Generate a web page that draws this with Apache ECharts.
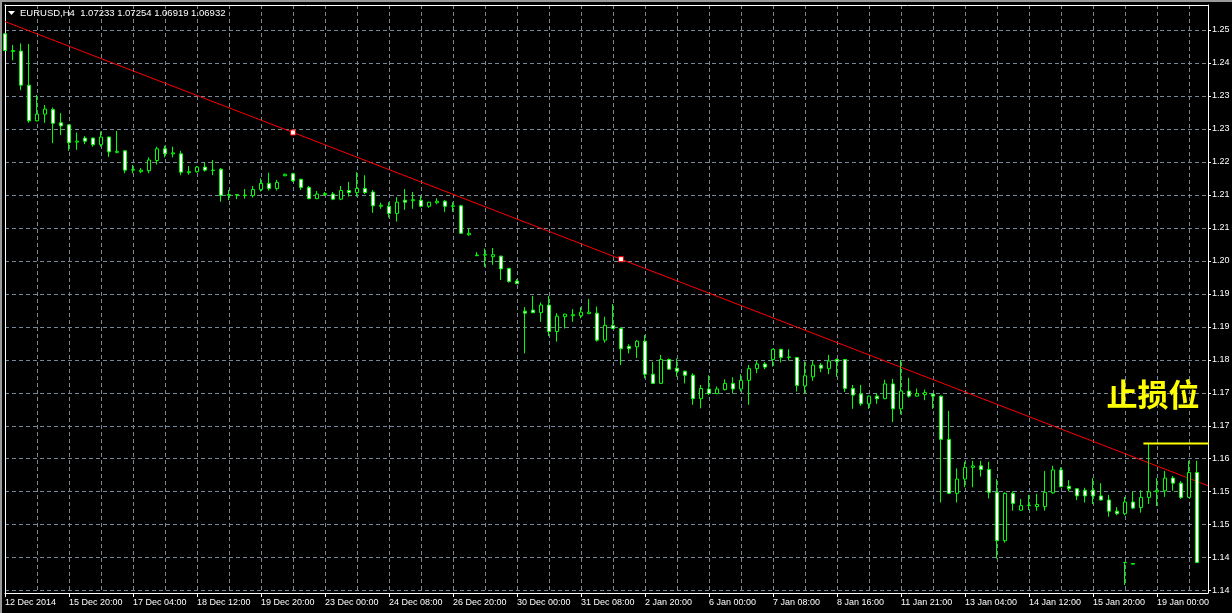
<!DOCTYPE html>
<html>
<head>
<meta charset="utf-8">
<script src="https://cdn.jsdelivr.net/npm/echarts@6/dist/echarts.min.js"></script>
<style>
html,body{margin:0;padding:0;background:#000;}
#chart{width:1232px;height:613px;}
</style>
</head>
<body>
<div id="chart"></div>
<script>
// ---- Data ----
const OPEN = [1.2499,1.2464,1.2465,1.2398,1.2328,1.2341,1.2350,1.2324,1.2320,1.2286,
1.2294,1.2294,1.2281,1.2296,1.2266,1.2269,1.2231,1.2228,1.2230,1.2250,
1.2273,1.2263,1.2263,1.2226,1.2228,1.2237,1.2230,1.2233,1.2181,1.2182,
1.2181,1.2181,1.2193,1.2205,1.2195,1.2220,1.2224,1.2213,1.2197,1.2175,
1.2183,1.2184,1.2174,1.2191,1.2187,1.2195,1.2188,1.2160,1.2160,1.2146,
1.2172,1.2171,1.2172,1.2160,1.2167,1.2170,1.2160,1.2161,1.2104,1.2063,
1.2064,1.2061,1.2062,1.2038,1.2013,1.1954,1.1956,1.1951,1.1966,1.1914,
1.1943,1.1945,1.1945,1.1949,1.1950,1.1897,1.1926,1.1920,1.1885,1.1884,
1.1895,1.1830,1.1812,1.1859,1.1842,1.1836,1.1828,1.1782,1.1801,1.1792,
1.1800,1.1812,1.1801,1.1818,1.1841,1.1850,1.1859,1.1879,1.1863,1.1863,
1.1807,1.1825,1.1848,1.1841,1.1859,1.1859,1.1802,1.1791,1.1772,1.1787,
1.1782,1.1811,1.1762,1.1797,1.1787,1.1790,1.1791,1.1787,1.1702,1.1596,
1.1624,1.1647,1.1650,1.1643,1.1598,1.1503,1.1596,1.1563,1.1572,1.1570,
1.1570,1.1597,1.1642,1.1610,1.1605,1.1602,1.1602,1.1591,1.1583,1.1561,
1.1556,1.1579,1.1568,1.1588,1.1599,1.1601,1.1626,1.1616,1.1588,1.1637];
const CLOSE = [1.2466,1.2466,1.2398,1.2328,1.2341,1.2351,1.2323,1.2318,1.2285,1.2288,
1.2288,1.2281,1.2296,1.2267,1.2268,1.2231,1.2232,1.2231,1.2251,1.2273,
1.2263,1.2265,1.2227,1.2228,1.2237,1.2231,1.2231,1.2181,1.2183,1.2183,
1.2182,1.2193,1.2205,1.2195,1.2207,1.2223,1.2210,1.2197,1.2175,1.2184,
1.2185,1.2174,1.2191,1.2187,1.2195,1.2187,1.2161,1.2162,1.2146,1.2168,
1.2168,1.2173,1.2160,1.2168,1.2170,1.2160,1.2161,1.2107,1.2107,1.2064,
1.2065,1.2065,1.2037,1.2012,1.2008,1.1950,1.1951,1.1966,1.1914,1.1944,
1.1948,1.1947,1.1952,1.1952,1.1897,1.1926,1.1920,1.1880,1.1880,1.1895,
1.1830,1.1812,1.1859,1.1840,1.1836,1.1828,1.1782,1.1802,1.1792,1.1801,
1.1812,1.1801,1.1818,1.1841,1.1850,1.1844,1.1879,1.1863,1.1864,1.1808,
1.1827,1.1848,1.1842,1.1856,1.1855,1.1802,1.1789,1.1772,1.1787,1.1782,
1.1811,1.1762,1.1797,1.1787,1.1792,1.1794,1.1787,1.1702,1.1596,1.1624,
1.1647,1.1650,1.1643,1.1598,1.1503,1.1596,1.1576,1.1572,1.1573,1.1574,
1.1598,1.1642,1.1609,1.1605,1.1591,1.1591,1.1591,1.1583,1.1561,1.1556,
1.1579,1.1567,1.1588,1.1599,1.1602,1.1626,1.1616,1.1588,1.1637,1.1460];
const LOW = [1.2465,1.2447,1.2388,1.2324,1.2327,1.2324,1.2284,1.2300,1.2269,1.2271,
1.2282,1.2277,1.2277,1.2257,1.2264,1.2225,1.2225,1.2225,1.2225,1.2242,
1.2256,1.2256,1.2221,1.2222,1.2226,1.2228,1.2221,1.2169,1.2172,1.2174,
1.2175,1.2177,1.2189,1.2191,1.2191,1.2219,1.2208,1.2192,1.2174,1.2174,
1.2180,1.2172,1.2172,1.2179,1.2179,1.2184,1.2147,1.2155,1.2138,1.2130,
1.2153,1.2155,1.2158,1.2157,1.2164,1.2149,1.2149,1.2106,1.2102,1.2062,
1.2041,1.2045,1.2015,1.2010,1.2007,1.1871,1.1950,1.1933,1.1905,1.1894,
1.1920,1.1933,1.1940,1.1949,1.1894,1.1892,1.1919,1.1848,1.1871,1.1862,
1.1822,1.1811,1.1811,1.1839,1.1825,1.1812,1.1770,1.1763,1.1789,1.1791,
1.1798,1.1792,1.1796,1.1770,1.1832,1.1840,1.1845,1.1853,1.1857,1.1796,
1.1792,1.1817,1.1834,1.1830,1.1825,1.1795,1.1762,1.1768,1.1762,1.1772,
1.1781,1.1736,1.1751,1.1784,1.1786,1.1779,1.1762,1.1578,1.1595,1.1578,
1.1608,1.1608,1.1629,1.1586,1.1468,1.1499,1.1562,1.1562,1.1563,1.1562,
1.1562,1.1595,1.1608,1.1600,1.1583,1.1578,1.1575,1.1582,1.1550,1.1553,
1.1553,1.1565,1.1558,1.1575,1.1571,1.1589,1.1601,1.1585,1.1587,1.1459];
const HIGH = [1.2500,1.2477,1.2480,1.2479,1.2379,1.2359,1.2354,1.2343,1.2321,1.2305,
1.2298,1.2295,1.2307,1.2297,1.2308,1.2270,1.2241,1.2235,1.2256,1.2277,
1.2279,1.2277,1.2269,1.2239,1.2239,1.2246,1.2251,1.2235,1.2192,1.2184,
1.2194,1.2200,1.2215,1.2226,1.2212,1.2224,1.2226,1.2214,1.2200,1.2190,
1.2188,1.2188,1.2200,1.2208,1.2227,1.2221,1.2192,1.2167,1.2168,1.2178,
1.2194,1.2188,1.2180,1.2169,1.2176,1.2172,1.2168,1.2163,1.2116,1.2070,
1.2077,1.2078,1.2063,1.2039,1.2017,1.1962,1.1984,1.1971,1.1984,1.1950,
1.1949,1.1958,1.1962,1.1978,1.1963,1.1943,1.1968,1.1922,1.1889,1.1897,
1.1907,1.1854,1.1868,1.1861,1.1861,1.1837,1.1832,1.1809,1.1828,1.1806,
1.1820,1.1824,1.1830,1.1848,1.1857,1.1854,1.1880,1.1880,1.1879,1.1864,
1.1855,1.1857,1.1852,1.1868,1.1861,1.1860,1.1809,1.1809,1.1788,1.1793,
1.1819,1.1821,1.1858,1.1823,1.1802,1.1800,1.1793,1.1788,1.1758,1.1645,
1.1658,1.1660,1.1660,1.1658,1.1624,1.1598,1.1600,1.1585,1.1593,1.1595,
1.1640,1.1650,1.1647,1.1622,1.1606,1.1607,1.1626,1.1616,1.1593,1.1569,
1.1589,1.1599,1.1602,1.1694,1.1626,1.1640,1.1630,1.1620,1.1660,1.1660];

// two stray marks near the bottom (bar index, open, close, low, high)
const EXTRA_BARS = [140, 141];
const EXTRA_OPEN = [1.1460, 1.1458];
const EXTRA_CLOSE = [1.1460, 1.1457];
const EXTRA_LOW = [1.1416, 1.1456];
const EXTRA_HIGH = [1.1460, 1.1458];

// red trend line (bar index, price); anchors are the 2nd and 3rd points
const TREND_BARS = [0, 36, 77, 150.375];
const TREND_PRICES = [1.2523, 1.2305, 1.2056, 1.1611];

// yellow stop-loss level
const STOP_BARS = [142.3, 150.95];
const STOP_PRICE = 1.1694;
const STOP_TEXT = '止损位';

// axes
const X_MIN = 0, X_MAX = 150.375;
const X_LABEL_BARS = [0,8,16,24,32,40,48,56,64,72,80,88,96,104,112,120,128,136,144];
const X_TICK_LABELS = ['12 Dec 2014','15 Dec 20:00','17 Dec 04:00','18 Dec 12:00','19 Dec 20:00',
'23 Dec 00:00','24 Dec 08:00','26 Dec 20:00','30 Dec 00:00','31 Dec 08:00','2 Jan 20:00',
'6 Jan 00:00','7 Jan 08:00','8 Jan 16:00','11 Jan 21:00','13 Jan 04:00','14 Jan 12:00',
'15 Jan 20:00','19 Jan 00:00'];
const Y_MIN = 1.14002, Y_MAX = 1.25555;
const Y_GRID_VALUES = [1.14048,1.14696,1.15344,1.15992,1.16640,1.17288,1.17936,1.18584,1.19232,
1.19880,1.20528,1.21176,1.21824,1.22472,1.23120,1.23768,1.24416,1.25064];
const Y_TICK_LABELS = ['1.14','1.14','1.15','1.15','1.16','1.17','1.17','1.18','1.19',
'1.19','1.20','1.21','1.21','1.22','1.23','1.23','1.24','1.25'];
const TITLE_TEXT = 'EURUSD,H4  1.07233 1.07254 1.06919 1.06932';

// ---- Chart ----
const candleData = OPEN.map((o, i) => [i, o, CLOSE[i], LOW[i], HIGH[i]]);
const extraData = EXTRA_BARS.map((b, i) => [b, EXTRA_OPEN[i], EXTRA_CLOSE[i], EXTRA_LOW[i], EXTRA_HIGH[i]]);
const trendData = TREND_BARS.map((b, i) => ({
  value: [b, TREND_PRICES[i]],
  symbol: (i === 0 || i === TREND_BARS.length - 1) ? 'none' : 'rect'
}));
const stopData = STOP_BARS.map(b => [b, STOP_PRICE]);

const FONT = 'Liberation Sans';
const GRID_COLOR = '#778899';
const candleStyle = {
  color: '#000000', color0: '#ffffff',
  borderColor: '#00ff00', borderColor0: '#00ff00', borderColorDoji: '#00ff00',
  borderWidth: 1
};

function nearestIndex(arr, v) {
  let best = 0, bd = Infinity;
  arr.forEach((a, i) => { const d = Math.abs(a - v); if (d < bd) { bd = d; best = i; } });
  return best;
}

const chart = echarts.init(document.getElementById('chart'), null, {renderer: 'canvas'});
chart.setOption({
  animation: false,
  backgroundColor: '#000000',
  grid: {left: 5, right: 24, top: 5, bottom: 20, containLabel: false, outerBoundsMode: 'none'},
  xAxis: [
    {
      type: 'value', min: X_MIN, max: X_MAX, interval: 4, position: 'bottom',
      axisLine: {show: true, onZero: false, lineStyle: {color: '#ffffff', width: 1}},
      axisTick: {show: false}, axisLabel: {show: false},
      splitLine: {show: true, showMinLine: false, showMaxLine: false,
        lineStyle: {color: GRID_COLOR, width: 1, type: [4, 3]}}
    },
    {
      type: 'value', min: X_MIN, max: X_MAX, position: 'bottom',
      axisLine: {show: false, onZero: false},
      axisTick: {show: true, customValues: X_LABEL_BARS, length: 4, lineStyle: {color: '#ffffff'}},
      axisLabel: {show: true, customValues: X_LABEL_BARS, color: '#ffffff', fontFamily: FONT, fontSize: 9,
        align: 'left', margin: 5,
        formatter: v => X_TICK_LABELS[nearestIndex(X_LABEL_BARS, v)]},
      splitLine: {show: false}
    },
    {
      type: 'value', min: X_MIN, max: X_MAX, position: 'top',
      axisLine: {show: true, onZero: false, lineStyle: {color: '#ffffff', width: 1}},
      axisTick: {show: false}, axisLabel: {show: false}, splitLine: {show: false}
    }
  ],
  yAxis: [
    {
      type: 'value', min: Y_MIN, max: Y_MAX, position: 'right',
      axisLine: {show: true, onZero: false, lineStyle: {color: '#ffffff', width: 1}},
      axisTick: {show: true, customValues: Y_GRID_VALUES, length: 3, lineStyle: {color: '#ffffff'}},
      axisLabel: {show: true, customValues: Y_GRID_VALUES, color: '#ffffff', fontFamily: FONT, fontSize: 9,
        margin: 4,
        formatter: v => Y_TICK_LABELS[nearestIndex(Y_GRID_VALUES, v)]},
      splitLine: {show: true, lineStyle: {color: GRID_COLOR, width: 1, type: [4, 3]}}
    },
    {
      type: 'value', min: Y_MIN, max: Y_MAX, position: 'left',
      axisLine: {show: true, onZero: false, lineStyle: {color: '#ffffff', width: 1}},
      axisTick: {show: false}, axisLabel: {show: false}, splitLine: {show: false}
    }
  ],
  series: [
    {
      type: 'line', name: 'trend', xAxisIndex: 0, yAxisIndex: 0, z: 1,
      data: trendData, symbolSize: 5, showSymbol: true,
      lineStyle: {color: '#ff0000', width: 1},
      itemStyle: {color: '#ffffff', borderColor: '#ff0000', borderWidth: 1}
    },
    {
      type: 'candlestick', name: 'EURUSD', xAxisIndex: 0, yAxisIndex: 0, z: 2,
      data: candleData, barWidth: 4, itemStyle: candleStyle
    },
    {
      type: 'candlestick', name: 'extra', xAxisIndex: 0, yAxisIndex: 0, z: 2,
      data: extraData, barWidth: 4, itemStyle: candleStyle
    },
    {
      type: 'line', name: 'stop', xAxisIndex: 0, yAxisIndex: 0, z: 3, clip: false,
      data: stopData, symbol: 'none',
      lineStyle: {color: '#ffff00', width: 2}
    }
  ],
  graphic: [
    {type: 'rect', shape: {x: 0, y: 0, width: 1232, height: 2}, style: {fill: '#9a9a9a'}, silent: true, z: 100},
    {type: 'rect', shape: {x: 0, y: 0, width: 2, height: 613}, style: {fill: '#9a9a9a'}, silent: true, z: 100},
    {type: 'polygon', shape: {points: [[8, 11], [15, 11], [11.5, 15]]}, style: {fill: '#ffffff'}, silent: true, z: 100},
    {type: 'text', x: 20, y: 13, silent: true, z: 100,
      style: {text: TITLE_TEXT, fill: '#ffffff', font: '9.5px "Liberation Sans"', textVerticalAlign: 'middle'}},
    {type: 'text', x: 1153, y: 394, silent: true, z: 100,
      style: {text: STOP_TEXT, fill: '#ffff00', font: 'bold 31px "Noto Sans CJK SC"',
        textAlign: 'center', textVerticalAlign: 'middle'}}
  ]
});
</script>
</body>
</html>
